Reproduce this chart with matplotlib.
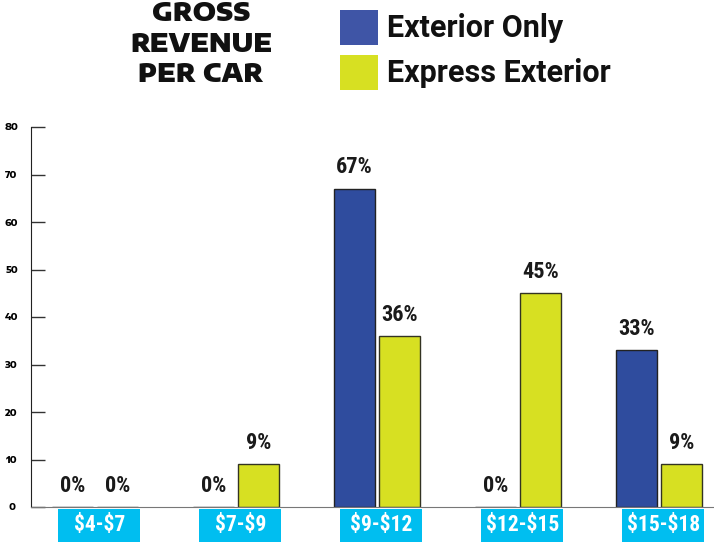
import numpy as np
import matplotlib
matplotlib.use("Agg")
import matplotlib.pyplot as plt
from matplotlib.patches import Rectangle

categories = ["$4-$7", "$7-$9", "$9-$12", "$12-$15", "$15-$18"]
exterior_only = [0, 0, 67, 0, 33]
express_exterior = [0, 9, 36, 45, 9]
series_names = ["Exterior Only", "Express Exterior"]
yticks = [0, 10, 20, 30, 40, 50, 60, 70, 80]

blue = "#2F4C9E"
yellow = "#D7E022"
cyan = "#00BEF0"
cond = ["Roboto Condensed", "DejaVu Sans"]
wide = ["Encode Sans Expanded", "DejaVu Sans"]

fig = plt.figure(figsize=(7.14, 5.43), dpi=100)
ax = fig.add_axes([31 / 714, 36 / 543, 683 / 714, 380 / 543])

x = np.arange(len(categories))
w = 0.29
off = 0.16
ax.bar(x - off, exterior_only, w, color=blue, edgecolor="#222222", linewidth=1)
ax.bar(x + off, express_exterior, w, color=yellow, edgecolor="#333322", linewidth=1)

for xi, v in zip(x, exterior_only):
    ax.text(xi - off, v + 2.2, f"{v}%", ha="center", va="bottom", fontsize=16,
            fontweight="bold", family=cond, color="#1a1a1a")
for xi, v in zip(x, express_exterior):
    ax.text(xi + off, v + 2.2, f"{v}%", ha="center", va="bottom", fontsize=16,
            fontweight="bold", family=cond, color="#1a1a1a")

ax.set_xlim(-0.454, 4.39)
ax.set_ylim(0, 80)
ax.set_yticks(yticks)
ax.set_yticklabels([str(t) for t in yticks], fontsize=6.5, fontweight=800, family=wide)
ax.set_xticks([])
ax.tick_params(axis="y", direction="in", length=10, width=1, color="#333333", pad=14)
for lbl in ax.get_yticklabels():
    lbl.set_horizontalalignment("center")
ax.spines["top"].set_visible(False)
ax.spines["right"].set_visible(False)
ax.spines["left"].set_color("#222222")
ax.spines["bottom"].set_color("#777777")

# category labels in cyan boxes below the axis
trans = ax.get_xaxis_transform()
for xi, c in zip(x, categories):
    ax.add_patch(Rectangle((xi + 0.03 - 0.29, -0.092), 0.58, 0.087, transform=trans,
                           facecolor=cyan, edgecolor="none", clip_on=False))
    ax.text(xi + 0.03, -0.047, c, transform=trans, ha="center", va="center",
            fontsize=15.5, fontweight="bold", family=cond, color="white",
            parse_math=False)

# title block
for i, line in enumerate(["GROSS", "REVENUE", "PER CAR"]):
    fig.text(201 / 714, 1 - (14 + 30.5 * i) / 543, line, ha="center", va="center",
             fontsize=18, fontweight=900, family=wide, color="#111111")

# legend
for i, (name, col) in enumerate(zip(series_names, ["#3F55A6", yellow])):
    y0 = 1 - (45 + 45 * i) / 543
    fig.patches.append(Rectangle((340 / 714, y0), 38 / 714, 35 / 543,
                                 transform=fig.transFigure, facecolor=col,
                                 edgecolor="none"))
    fig.text(387 / 714, y0 + 17 / 543, name, ha="left", va="center", fontsize=22,
             fontweight="bold", family=["Roboto", "DejaVu Sans"], color="#111111")

fig.savefig("out.png", dpi=100)
